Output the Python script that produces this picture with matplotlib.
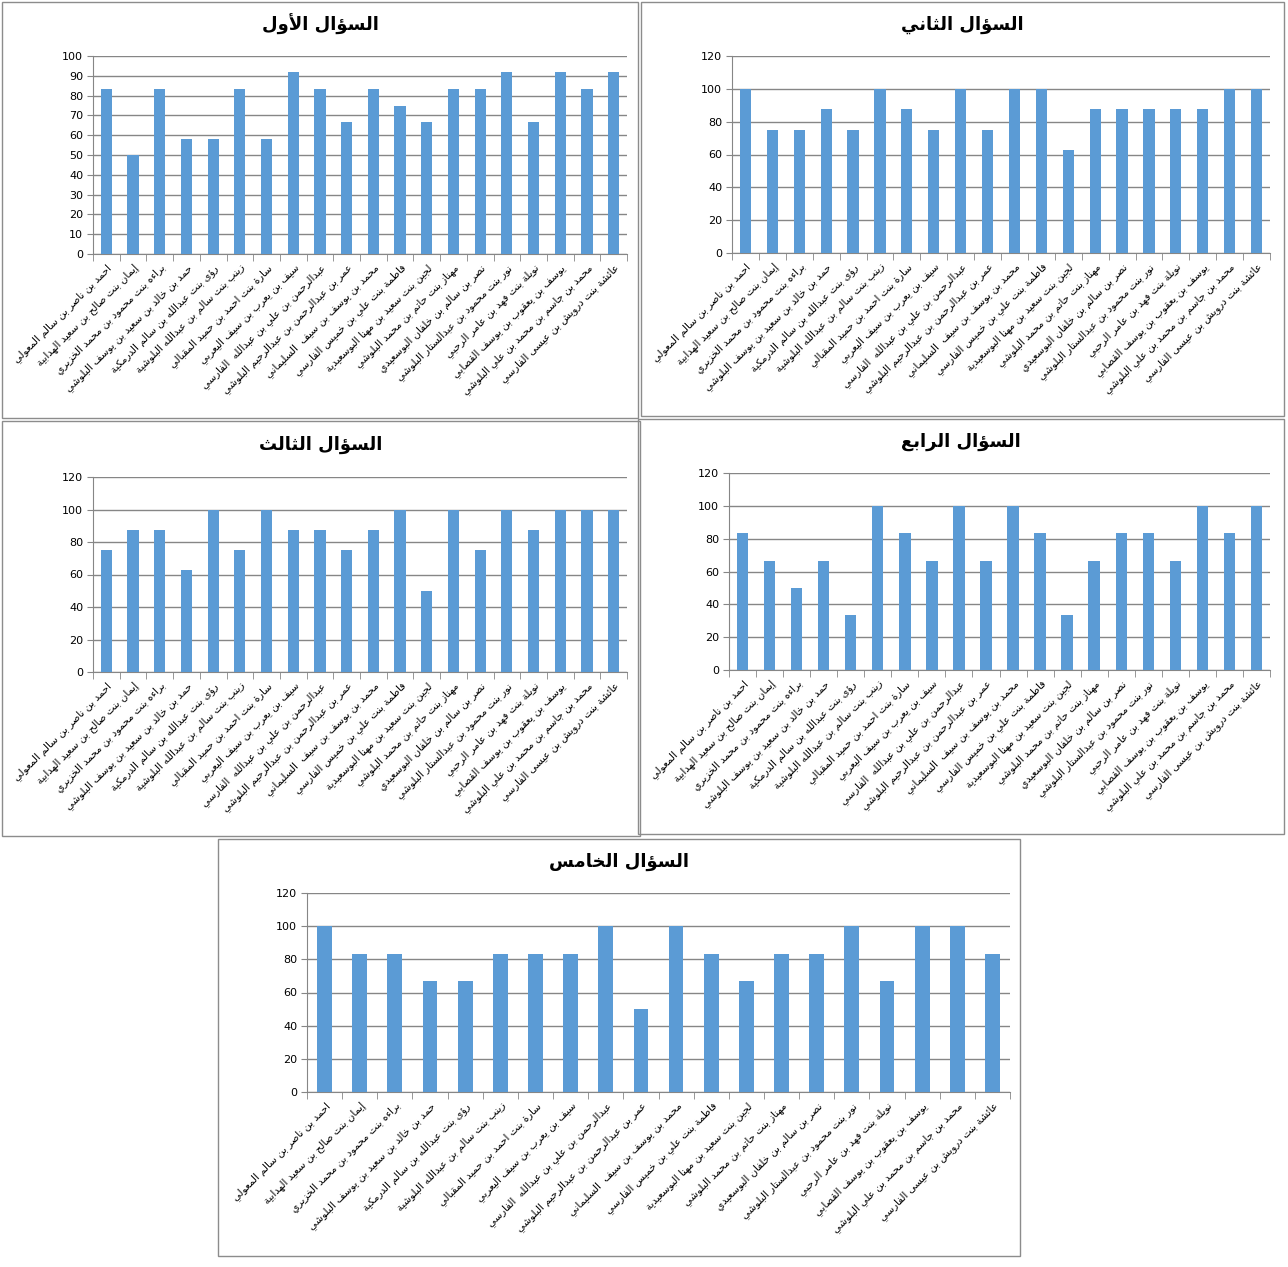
import matplotlib
matplotlib.use('Agg')
import matplotlib.pyplot as plt
import matplotlib.patches as patches
import numpy as np

plt.rcParams['font.family'] = ['DejaVu Sans']

# أسماء الطلاب
names = [
    'احمد بن ناصر بن سالم المعولي',
    'إيمان بنت صالح بن سعيد الهدابية',
    'براءه بنت محمود بن محمد الخزيري',
    'حمد بن خالد بن سعيد بن يوسف البلوشي',
    'رؤى بنت عبدالله بن سالم الدرمكية',
    'زينب بنت سالم بن عبدالله البلوشية',
    'سارة بنت احمد بن حميد المقبالي',
    'سيف بن يعرب بن سيف اليعربي',
    'عبدالرحمن بن علي بن عبدالله  الفارسي',
    'عمر بن عبدالرحمن بن عبدالرحيم البلوشي',
    'محمد بن يوسف بن سيف  السليماني',
    'فاطمة بنت علي بن خميس الفارسي',
    'لجين بنت سعيد بن مهنا البوسعيدية',
    'مهناز بنت حاتم بن محمد البلوشي',
    'نصر بن سالم بن خلفان البوسعيدي',
    'نور بنت محمود بن عبدالستار البلوشي',
    'نويلة بنت فهد بن عامر الرحبي',
    'يوسف بن يعقوب بن يوسف القصابي',
    'محمد بن جاسم بن محمد بن علي البلوشي',
    'عائشة بنت درويش بن عيسى الفارسي',
]

titles = ['السؤال الأول', 'السؤال الثاني', 'السؤال الثالث', 'السؤال الرابع', 'السؤال الخامس']

q1 = [83.3, 50, 83.3, 58.3, 58.3, 83.3, 58.3, 91.7, 83.3, 66.7,
      83.3, 75, 66.7, 83.3, 83.3, 91.7, 66.7, 91.7, 83.3, 91.7]
q2 = [100, 75, 75, 87.5, 75, 100, 87.5, 75, 100, 75,
      100, 100, 62.5, 87.5, 87.5, 87.5, 87.5, 87.5, 100, 100]
q3 = [75, 87.5, 87.5, 62.5, 100, 75, 100, 87.5, 87.5, 75,
      87.5, 100, 50, 100, 75, 100, 87.5, 100, 100, 100]
q4 = [83.3, 66.7, 50, 66.7, 33.3, 100, 83.3, 66.7, 100, 66.7,
      100, 83.3, 33.3, 66.7, 83.3, 83.3, 66.7, 100, 83.3, 100]
q5 = [100, 83.3, 83.3, 66.7, 66.7, 83.3, 83.3, 83.3, 100, 50,
      100, 83.3, 66.7, 83.3, 83.3, 100, 66.7, 100, 100, 83.3]
series = [q1, q2, q3, q4, q5]
ymax = [100, 120, 120, 120, 120]
ystep = [10, 20, 20, 20, 20]

# تشكيل الحروف العربية (matplotlib لا يدعم الربط)
_counts = [(0x621, 1), (0x622, 2), (0x623, 2), (0x624, 2), (0x625, 2), (0x626, 4),
           (0x627, 2), (0x628, 4), (0x629, 2)] + [(c, 4) for c in range(0x62A, 0x62F)] + \
          [(c, 2) for c in range(0x62F, 0x633)] + [(c, 4) for c in range(0x633, 0x63B)] + \
          [(c, 4) for c in range(0x641, 0x648)] + [(0x648, 2), (0x649, 2), (0x64A, 4)]
FORMS = {}
_code = 0xFE80
for _c, _n in _counts:
    FORMS[chr(_c)] = [chr(_code + k) for k in range(_n)]
    _code += _n
LAM_ALEF = {'آ': 0xFEF5, 'أ': 0xFEF7, 'إ': 0xFEF9, 'ا': 0xFEFB}


def shape(text):
    chars = [c for c in text if not (0x64B <= ord(c) <= 0x652)]
    tokens = []
    i = 0
    while i < len(chars):
        c = chars[i]
        if c == 'ل' and i + 1 < len(chars) and chars[i + 1] in LAM_ALEF:
            b = LAM_ALEF[chars[i + 1]]
            tokens.append([chr(b), chr(b + 1)])
            i += 2
        else:
            tokens.append(FORMS.get(c, c))
            i += 1
    out = []
    for j, t in enumerate(tokens):
        if isinstance(t, str):
            out.append(t)
            continue
        prev = tokens[j - 1] if j > 0 else None
        nxt = tokens[j + 1] if j + 1 < len(tokens) else None
        cp = isinstance(prev, list) and len(prev) == 4 and len(t) >= 2
        cn = len(t) == 4 and isinstance(nxt, list) and len(nxt) >= 2
        if cp and cn:
            out.append(t[3])
        elif cp:
            out.append(t[1])
        elif cn:
            out.append(t[2])
        else:
            out.append(t[0])
    return ''.join(out[::-1])


W, H = 1288, 1267
fig = plt.figure(figsize=(W / 100, H / 100), dpi=100)

# حدود الإطارات ومواقع المحاور بالبكسل
frames = [(2, 2, 638, 418), (641, 2, 1284, 416), (2, 421, 640, 836),
          (638, 419, 1284, 834), (218, 839, 1020, 1256)]
plots = [(93, 56, 627, 254), (732, 56, 1270, 253), (93, 477, 627, 672),
         (729, 473, 1270, 670), (307, 893, 1010, 1092)]
title_y = [24, 25, 445, 442, 862]

bar_color = '#5B9BD5'
grid_color = '#868686'
x = np.arange(len(names))
labels = [shape(n) for n in names]

for k in range(5):
    fx0, fy0, fx1, fy1 = frames[k]
    fig.patches.append(patches.Rectangle((fx0 / W, 1 - fy1 / H), (fx1 - fx0) / W, (fy1 - fy0) / H,
                                         transform=fig.transFigure, fill=False,
                                         edgecolor='#8c8c8c', linewidth=1))
    px0, py0, px1, py1 = plots[k]
    ax = fig.add_axes([px0 / W, 1 - py1 / H, (px1 - px0) / W, (py1 - py0) / H])
    ax.bar(x, series[k], width=0.42, color=bar_color, zorder=3)
    ax.set_xlim(-0.5, len(names) - 0.5)
    ax.set_ylim(0, ymax[k])
    ax.set_yticks(np.arange(0, ymax[k] + 1, ystep[k]))
    ax.grid(axis='y', color=grid_color, linewidth=1, zorder=0)
    ax.set_axisbelow(True)
    for s in ['top', 'right']:
        ax.spines[s].set_visible(False)
    for s in ['left', 'bottom']:
        ax.spines[s].set_color(grid_color)
    ax.tick_params(axis='y', length=4, color=grid_color, labelsize=8, pad=3)
    ax.set_xticks(x)
    ax.set_xticks(np.arange(-0.5, len(names)), minor=True)
    ax.tick_params(axis='x', which='major', length=0, pad=6)
    ax.tick_params(axis='x', which='minor', length=5, color=grid_color)
    ax.set_xticklabels(labels, rotation=45, ha='right', va='top',
                       rotation_mode='anchor', fontsize=7.4)
    fig.text(((fx0 + fx1) / 2) / W, 1 - title_y[k] / H, shape(titles[k]),
             ha='center', va='center', fontsize=13, fontweight='bold')

fig.savefig('out.png', dpi=100)
